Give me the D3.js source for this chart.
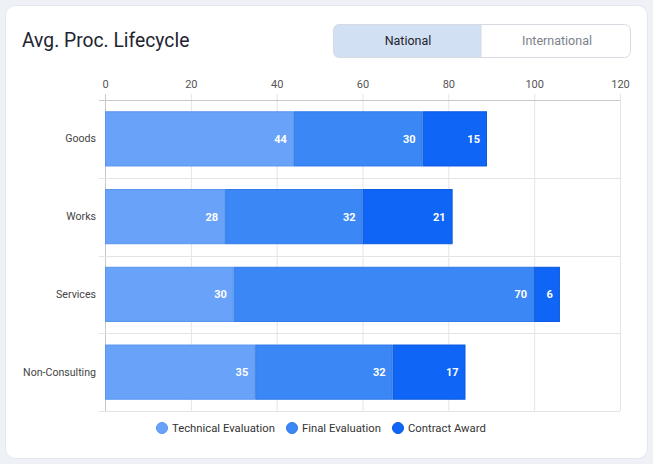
<!DOCTYPE html>
<html><head><meta charset="utf-8">
<script src="https://cdn.jsdelivr.net/npm/d3@7"></script>
<style>
html,body{margin:0;padding:0;background:#eef2f6;}
svg{display:block;font-family:Roboto,"Noto Sans",sans-serif;}
</style></head>
<body><svg id="c" width="653" height="464"></svg>
<script>
const categories = ["Goods","Works","Services","Non-Consulting"];
const seriesNames = ["Technical Evaluation","Final Evaluation","Contract Award"];
const technical = [44,28,30,35];
const finalEval = [30,32,70,32];
const contract = [15,21,6,17];
const xTicks = [0,20,40,60,80,100,120];
const toggleLabels = ["National","International"];
const colors = ["#68a2f9","#3b87f6","#0e65f6"];
const borders = ["#5a95ef","#2f7ae9","#0a58e0"];

(function(){
const FONT = "Roboto,sans-serif";
const svg = d3.select("#c");
// card
svg.append("rect").attr("x",5.5).attr("y",5.5).attr("width",642).attr("height",453)
  .attr("rx",10).attr("fill","#fff").attr("stroke","#e3e8ee");
svg.append("text").attr("x",22).attr("y",47).attr("font-size",19.3).attr("fill","#1e2430")
  .attr("font-weight",400).text("Avg. Proc. Lifecycle");
// toggle
const tg = svg.append("g");
tg.append("path").attr("d","M339,24.5 H481 V57.5 H339 Q333.5,57.5 333.5,52 V30 Q333.5,24.5 339,24.5 Z").attr("fill","#d2e0f3");
tg.append("rect").attr("x",333.5).attr("y",24.5).attr("width",297).attr("height",33).attr("rx",6)
  .attr("fill","none").attr("stroke","#d6dbe2");
tg.append("line").attr("x1",481).attr("x2",481).attr("y1",24.5).attr("y2",57.5).attr("stroke","#d6dbe2");
tg.append("text").attr("x",408).attr("y",45).attr("text-anchor","middle").attr("font-size",12.5)
  .attr("fill","#1e2430").text(toggleLabels[0]);
tg.append("text").attr("x",557).attr("y",45).attr("text-anchor","middle").attr("font-size",12.5)
  .attr("fill","#7b818a").text(toggleLabels[1]);

const pLeft=105, pRight=620, pTop=100, pBottom=411;
const x = d3.scaleLinear().domain([0,120]).range([pLeft,pRight]);
const y = d3.scaleBand().domain(categories).range([pTop,pBottom]).paddingInner(0.29).paddingOuter(0.145);
const bandStep = (pBottom-pTop)/categories.length;

// vertical gridlines
const g = svg.append("g");
xTicks.forEach(t=>{
  g.append("line").attr("x1",x(t)+0.5).attr("x2",x(t)+0.5).attr("y1",94).attr("y2",pBottom)
    .attr("stroke", t===0 ? "#c8c8c8" : "#e4e4e4");
});
// horizontal gridlines at band boundaries
for(let i=0;i<=categories.length;i++){
  const yy = Math.round(pTop + i*bandStep)+0.5;
  g.append("line").attr("x1",99).attr("x2",pRight).attr("y1",yy).attr("y2",yy)
    .attr("stroke", i===0 ? "#c8c8c8" : "#e4e4e4");
}
// top axis
const xa = svg.append("g").attr("transform",`translate(0,${pTop})`)
  .call(d3.axisTop(x).tickValues(xTicks).tickSize(0).tickPadding(12));
xa.select(".domain").remove();
xa.selectAll("text").attr("font-size",11).attr("fill","#555").attr("font-family",FONT);
// left axis
const ya = svg.append("g").attr("transform",`translate(${pLeft},0)`)
  .call(d3.axisLeft(y).tickSize(0).tickPadding(9));
ya.select(".domain").remove();
ya.selectAll("text").attr("font-size",10.6).attr("fill","#444").attr("font-family",FONT);

// stacked data
const rows = categories.map((c,i)=>({cat:c, "Technical Evaluation":technical[i], "Final Evaluation":finalEval[i], "Contract Award":contract[i]}));
const stack = d3.stack().keys(seriesNames)(rows);
stack.forEach((layer,si)=>{
  const lg = svg.append("g");
  layer.forEach(d=>{
    const x0=x(d[0]), x1=x(d[1]);
    lg.append("rect").attr("x",x0+0.5).attr("y",y(d.data.cat)+0.5).attr("width",x1-x0-1)
      .attr("height",y.bandwidth()-1).attr("fill",colors[si]).attr("stroke",borders[si]).attr("stroke-width",1);
    lg.append("text").attr("x",x1-7).attr("y",y(d.data.cat)+y.bandwidth()/2+4)
      .attr("text-anchor","end").attr("font-size",11).attr("font-weight",700).attr("fill","#fff")
      .text(d[1]-d[0]);
  });
});

// legend
const legX = [162,292,398];
seriesNames.forEach((s,i)=>{
  svg.append("circle").attr("cx",legX[i]).attr("cy",428).attr("r",5.5).attr("fill",colors[i]).attr("stroke",borders[i]);
  svg.append("text").attr("x",legX[i]+10).attr("y",432).attr("font-size",11.3).attr("fill","#333").text(s);
});
})();
</script></body></html>
